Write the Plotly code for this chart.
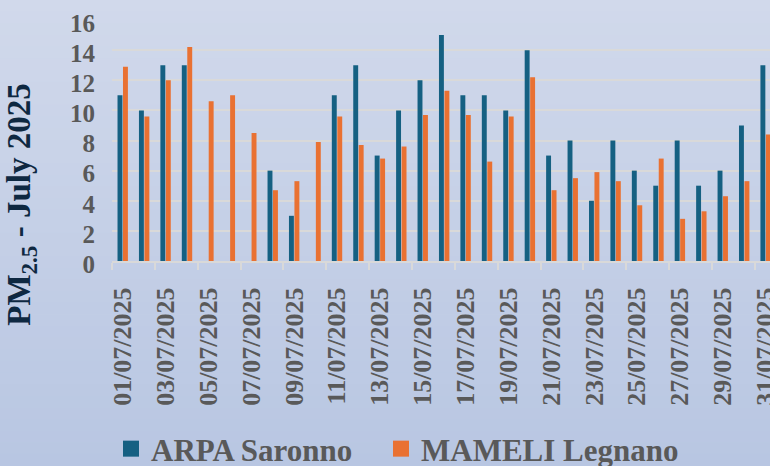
import plotly.graph_objects as go

# ---- data ----
dates = [f"{d:02d}/07/2025" for d in range(1, 32)]
arpa_saronno = [11, 10, 13, 13, None, None, None, 6, 3, None, 11, 13, 7, 10, 12, 15,
                11, 11, 10, 14, 7, 8, 4, 8, 6, 5, 8, 5, 6, 9, 13]
mameli_legnano = [12.9, 9.6, 12.0, 14.2, 10.6, 11.0, 8.5, 4.7, 5.3, 7.9, 9.6, 7.7, 6.8,
                  7.6, 9.7, 11.3, 9.7, 6.6, 9.6, 12.2, 4.7, 5.5, 5.9, 5.3, 3.7, 6.8,
                  2.8, 3.3, 4.3, 5.3, 8.4]
series_names = ["ARPA Saronno", "MAMELI Legnano"]
y_title = "PM<sub>2.5</sub> - July 2025"

BLUE = "#156082"
ORANGE = "#E97132"
GRAY_TXT = "#595959"
GRID = "#D9D9D9"
FONT = "Liberation Serif, Times New Roman, serif"

W, H = 770, 466
ML, MT = 112, 20
PLOT_BOTTOM = 261.3
MB = H - PLOT_BOTTOM
plot_h = PLOT_BOTTOM - MT

fig = go.Figure()
fig.add_trace(go.Bar(x=dates, y=arpa_saronno, name=series_names[0],
                     marker=dict(color=BLUE, line=dict(width=0)), showlegend=False))
fig.add_trace(go.Bar(x=dates, y=mameli_legnano, name=series_names[1],
                     marker=dict(color=ORANGE, line=dict(width=0)), showlegend=False))
# legend entries with larger square swatches, one legend box per entry
for nm, col, lg in zip(series_names, [BLUE, ORANGE], ["legend", "legend2"]):
    fig.add_trace(go.Scatter(x=[None], y=[None], mode="markers", name=nm, legend=lg,
                             marker=dict(symbol="square", size=16, color=col,
                                         line=dict(width=0))))

# background vertical gradient drawn as thin bands
top_c = (209, 217, 235)
bot_c = (184, 198, 226)
n = 40
shapes = []
for i in range(n):
    p0 = H * i / n
    p1 = H * (i + 1) / n + 0.6
    t = (i + 0.5) / n
    c = tuple(round(top_c[k] + (bot_c[k] - top_c[k]) * t) for k in range(3))
    shapes.append(dict(type="rect", xref="paper", yref="paper",
                       x0=-0.5, x1=1.5,
                       y0=(PLOT_BOTTOM - p1) / plot_h, y1=(PLOT_BOTTOM - p0) / plot_h,
                       fillcolor=f"rgb{c}", line=dict(width=0), layer="below"))

legend_style = dict(orientation="h", xref="container", yref="container",
                    xanchor="left", y=17 / H, yanchor="middle",
                    font=dict(family=FONT, size=31, color=GRAY_TXT, weight=700),
                    bgcolor="rgba(0,0,0,0)")

fig.update_layout(
    width=W, height=H,
    margin=dict(l=ML, r=0, t=MT, b=MB, pad=0, autoexpand=False),
    paper_bgcolor="rgb(196,207,230)",
    plot_bgcolor="rgba(0,0,0,0)",
    barmode="group", bargap=0.49, bargroupgap=0.1,
    shapes=shapes,
    font=dict(family=FONT, color=GRAY_TXT),
    legend=dict(x=111 / W, **legend_style),
    legend2=dict(x=381 / W, **legend_style),
    annotations=[dict(text=y_title, xref="paper", yref="paper",
                      x=(22 - ML) / (W - ML), y=(PLOT_BOTTOM - 205) / plot_h,
                      xanchor="center", yanchor="middle", textangle=-90,
                      showarrow=False,
                      font=dict(family=FONT, size=33, color="#0E2841", weight=700))],
)
fig.update_xaxes(type="category", range=[-0.5, -0.5 + (W - ML) / 21.43],
                 automargin=False, ticklabeloverflow="allow",
                 tickmode="linear", tick0=0, dtick=2, tickson="boundaries",
                 ticks="outside", ticklen=7, tickwidth=2, tickcolor=GRID,
                 showline=True, linecolor=GRID, linewidth=2,
                 showgrid=False, tickangle=-90, ticklabelstandoff=14,
                 tickfont=dict(family=FONT, size=26, color=GRAY_TXT, weight=700))
fig.update_yaxes(range=[0, 16], dtick=2, showgrid=True, gridcolor=GRID, gridwidth=1.5,
                 automargin=False,
                 zeroline=False, ticks="", ticklabelstandoff=16, ticklabelshift=3,
                 tickfont=dict(family=FONT, size=25, color=GRAY_TXT, weight=700))

fig.write_html("out.html", config={"displayModeBar": False},
               post_script="document.body.style.margin='0';"
                           "document.body.style.overflow='hidden';")
